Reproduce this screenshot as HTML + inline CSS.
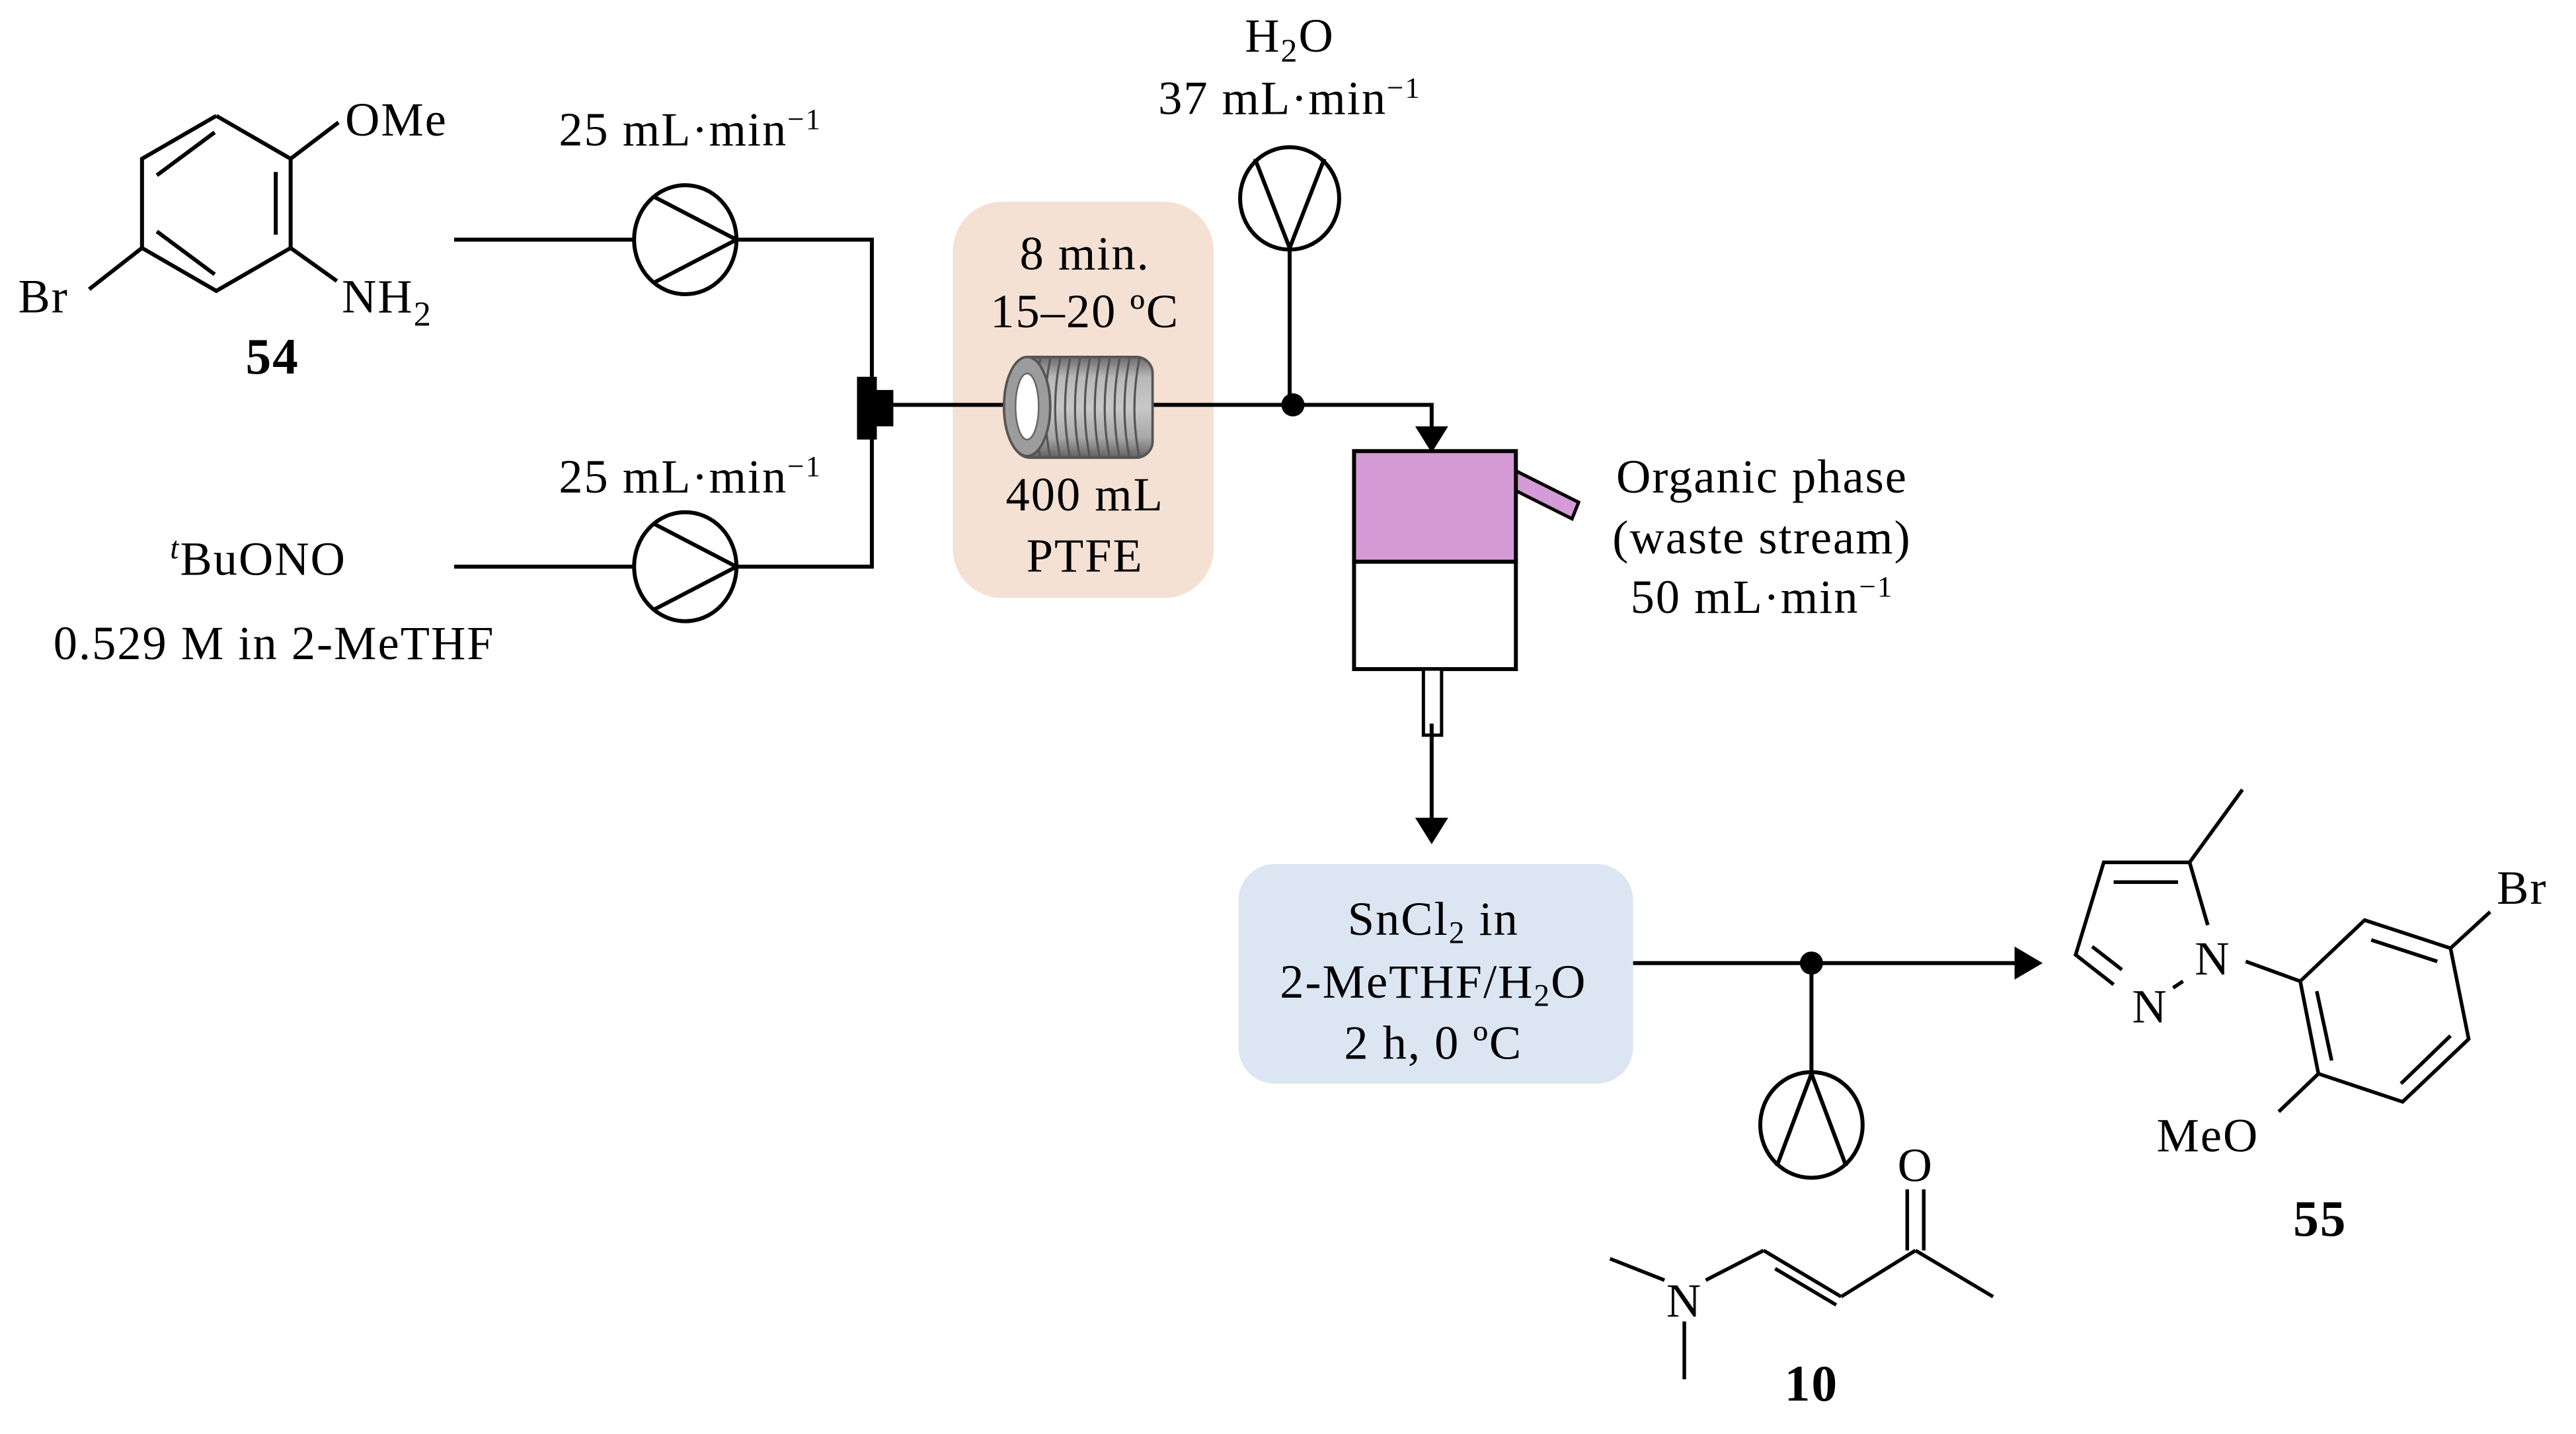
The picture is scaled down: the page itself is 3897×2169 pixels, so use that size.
<!DOCTYPE html>
<html><head><meta charset="utf-8"><style>
html,body{margin:0;padding:0;background:#fff;}
svg{display:block}
text{font-family:"Liberation Serif",serif;fill:#000;letter-spacing:0.8px}
</style></head><body>
<svg width="3897" height="2169" viewBox="0 0 1560 868" xmlns="http://www.w3.org/2000/svg">
<defs>
<linearGradient id="cg" x1="0" y1="0" x2="0" y2="1">
<stop offset="0" stop-color="#6a6a6a"/><stop offset="0.2" stop-color="#b8b8b8"/><stop offset="0.5" stop-color="#c8c8c8"/><stop offset="0.8" stop-color="#a8a8a8"/><stop offset="1" stop-color="#606060"/>
</linearGradient>
</defs>
<g stroke="#000" stroke-width="2.4" fill="none" stroke-linecap="butt">
<polyline points="131,70 176,96 176,150 131,176 86,150 86,96 131,70"/>
<line x1="167" y1="104" x2="167" y2="142"/>
<line x1="95" y1="106" x2="130" y2="80"/>
<line x1="95" y1="140" x2="130" y2="166"/>
<line x1="176" y1="96" x2="205" y2="74"/>
<line x1="176" y1="150" x2="204" y2="170"/>
<line x1="86" y1="150" x2="54" y2="175"/>
</g>
<text x="209" y="82" font-size="29">OMe</text>
<text x="207" y="189" font-size="29">NH<tspan font-size="21" dy="8">2</tspan></text>
<text x="11" y="189" font-size="29">Br</text>
<text x="165" y="226" font-size="31" font-weight="bold" text-anchor="middle">54</text>

<text x="418" y="88" font-size="29" text-anchor="middle">25 mL·min<tspan font-size="18" dy="-10">−1</tspan></text>
<text x="418" y="298" font-size="29" text-anchor="middle">25 mL·min<tspan font-size="18" dy="-10">−1</tspan></text>
<text x="103" y="348" font-size="29"><tspan font-size="19" font-style="italic" dy="-10">t</tspan><tspan dy="10">BuONO</tspan></text>
<text x="166" y="399" font-size="29" text-anchor="middle">0.529 M in 2-MeTHF</text>

<rect x="577" y="122" width="158" height="240" rx="30" fill="#f4e1d4"/>
<text x="657" y="163" font-size="29" text-anchor="middle">8 min.</text>
<text x="657" y="198" font-size="29" text-anchor="middle">15–20 ºC</text>
<text x="657" y="309" font-size="29" text-anchor="middle">400 mL</text>
<text x="657" y="346" font-size="29" text-anchor="middle">PTFE</text>

<g stroke="#000" stroke-width="2.4" fill="none">
<polyline points="275,145 384,145"/>
<polyline points="446,145 528,145 528,240"/>
<polyline points="275,343 384,343"/>
<polyline points="446,343 528,343 528,255"/>
<ellipse cx="415" cy="145" rx="31" ry="33" fill="#fff"/>
<polyline points="396,119 446,145 396,171"/>
<ellipse cx="415" cy="343" rx="31" ry="33" fill="#fff"/>
<polyline points="396,317 446,343 396,369"/>
<line x1="541" y1="245" x2="612" y2="245"/>
<polyline points="698,245 867,245 867,262"/>
<line x1="781" y1="150" x2="781" y2="245"/>
<ellipse cx="781" cy="120" rx="30" ry="31" fill="#fff"/>
<polyline points="760,96 781,150 802,96"/>
</g>
<polygon points="857,258 877,258 867,274" fill="#000"/>
<rect x="519" y="228" width="12" height="38" fill="#000"/>
<rect x="530" y="236" width="11" height="22" fill="#000"/>
<circle cx="783" cy="245" r="7" fill="#000"/>
<text x="781" y="31" font-size="29" text-anchor="middle">H<tspan font-size="20" dy="6">2</tspan><tspan dy="-6">O</tspan></text>
<text x="781" y="69" font-size="29" text-anchor="middle">37 mL·min<tspan font-size="18" dy="-10">−1</tspan></text>

<rect x="614" y="216" width="84" height="61" rx="10" fill="url(#cg)" stroke="#555" stroke-width="1.5"/>
<g stroke="#555" stroke-width="1.3" fill="none">
<path d="M630,217 q-6,30 0,60 M636,217 q-6,30 0,60 M642,217 q-6,30 0,60 M648,217 q-6,30 0,60 M654,217 q-6,30 0,60 M660,217 q-6,30 0,60 M666,217 q-6,30 0,60 M672,217 q-6,30 0,60 M678,217 q-6,30 0,60 M684,217 q-6,30 0,60 M690,217 q-6,30 0,60"/>
</g>
<ellipse cx="622" cy="246" rx="14" ry="30" fill="#9c9c9c" stroke="#555" stroke-width="1.5"/>
<ellipse cx="622" cy="246" rx="7" ry="20" fill="#fff" stroke="#666" stroke-width="1"/>

<polygon points="918,285 956,304 952,314 918,297" fill="#d49bd6" stroke="#000" stroke-width="2"/>
<rect x="820" y="273" width="98" height="67" fill="#d49bd6" stroke="#000" stroke-width="2.4"/>
<rect x="820" y="340" width="98" height="65" fill="#fff" stroke="#000" stroke-width="2.4"/>
<rect x="862" y="405" width="11" height="40" fill="#fff" stroke="#000" stroke-width="2"/>
<line x1="867" y1="438" x2="867" y2="497" stroke="#000" stroke-width="2.4"/>
<polygon points="857,495 877,495 867,511" fill="#000"/>
<text x="1067" y="298" font-size="29" text-anchor="middle">Organic phase</text>
<text x="1067" y="335" font-size="29" text-anchor="middle">(waste stream)</text>
<text x="1067" y="371" font-size="29" text-anchor="middle">50 mL·min<tspan font-size="18" dy="-10">−1</tspan></text>

<rect x="750" y="523" width="239" height="133" rx="22" fill="#dce6f2"/>
<text x="868" y="566" font-size="29" text-anchor="middle">SnCl<tspan font-size="19" dy="5">2</tspan><tspan dy="-5"> in</tspan></text>
<text x="868" y="604" font-size="29" text-anchor="middle">2-MeTHF/H<tspan font-size="19" dy="5">2</tspan><tspan dy="-5">O</tspan></text>
<text x="868" y="641" font-size="29" text-anchor="middle">2 h, 0 ºC</text>

<g stroke="#000" stroke-width="2.4" fill="none">
<line x1="989" y1="583" x2="1222" y2="583"/>
<line x1="1097" y1="583" x2="1097" y2="650"/>
<ellipse cx="1097" cy="681" rx="31" ry="32" fill="#fff"/>
<polyline points="1076,706 1097,650 1118,706"/>
</g>
<polygon points="1220,573 1220,593 1237,583" fill="#000"/>
<circle cx="1097" cy="583" r="7" fill="#000"/>

<g stroke="#000" stroke-width="2.2" fill="none">
<line x1="975" y1="762" x2="1008" y2="775"/>
<line x1="1020" y1="800" x2="1020" y2="835"/>
<line x1="1033" y1="775" x2="1068" y2="757"/>
<line x1="1068" y1="757" x2="1115" y2="785"/>
<line x1="1075" y1="768" x2="1112" y2="790"/>
<line x1="1115" y1="785" x2="1160" y2="757"/>
<line x1="1160" y1="757" x2="1207" y2="785"/>
<line x1="1155" y1="757" x2="1155" y2="720"/>
<line x1="1165" y1="757" x2="1165" y2="720"/>
</g>
<text x="1020" y="797" font-size="29" text-anchor="middle">N</text>
<text x="1160" y="715" font-size="29" text-anchor="middle">O</text>
<text x="1097" y="848" font-size="31" font-weight="bold" text-anchor="middle">10</text>

<g stroke="#000" stroke-width="2.2" fill="none">
<line x1="1326" y1="522" x2="1358" y2="478"/>
<polyline points="1337,560 1326,522 1274,522 1257,578 1280,596"/>
<line x1="1280" y1="534" x2="1319" y2="534"/>
<line x1="1267" y1="573" x2="1285" y2="587"/>
<line x1="1316" y1="598" x2="1322" y2="594"/>
<line x1="1360" y1="582" x2="1393" y2="594"/>
<polyline points="1393,594 1432,557 1484,574 1495,629 1455,667 1404,650 1393,594"/>
<line x1="1436" y1="569" x2="1476" y2="582"/>
<line x1="1403" y1="600" x2="1412" y2="642"/>
<line x1="1484" y1="627" x2="1454" y2="656"/>
<line x1="1484" y1="574" x2="1508" y2="552"/>
<line x1="1404" y1="650" x2="1380" y2="673"/>
</g>
<text x="1340" y="590" font-size="29" text-anchor="middle">N</text>
<text x="1302" y="619" font-size="29" text-anchor="middle">N</text>
<text x="1512" y="547" font-size="29">Br</text>
<text x="1306" y="697" font-size="29">MeO</text>
<text x="1405" y="748" font-size="31" font-weight="bold" text-anchor="middle">55</text>
</svg>
</body></html>
